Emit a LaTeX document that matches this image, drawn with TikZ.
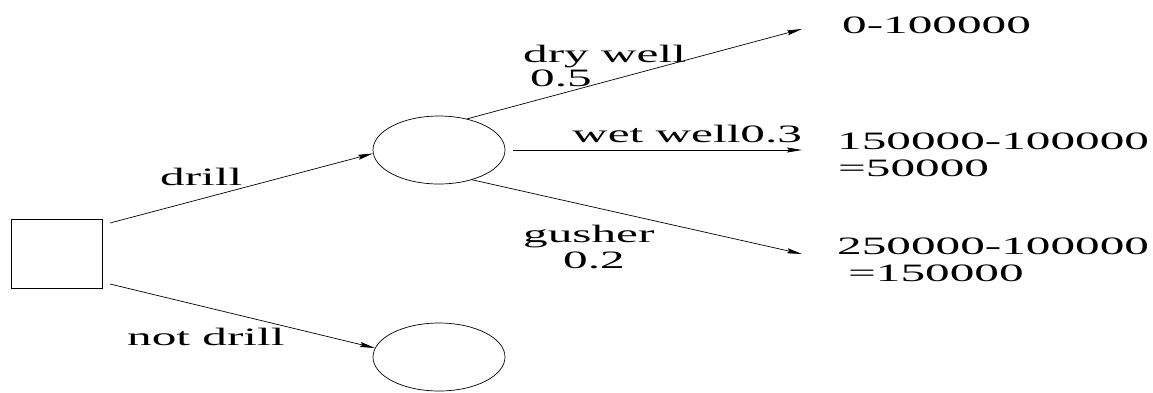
\documentclass[tikz,border=0pt]{standalone}
\usepackage{fontspec}
\usepackage{graphicx}
\setmainfont{Liberation Serif}
\usetikzlibrary{shapes.geometric,arrows.meta}
\newcommand{\stretchtxt}[1]{\scalebox{1.97}[1]{#1}}
\begin{document}
\begin{tikzpicture}[x=1pt,y=-1pt,
  link/.style={line width=0.7pt,-{Stealth[length=15pt,width=5pt,inset=2pt]}},
  chance/.style={ellipse,draw,line width=0.7pt,minimum width=132pt,minimum height=68pt,inner sep=0pt},
  choice/.style={draw,line width=0.7pt,minimum width=91pt,minimum height=69pt,inner sep=0pt},
  lbl/.style={anchor=base west,inner sep=0pt,font=\fontsize{25}{25}\selectfont}]
\useasboundingbox (0,0) rectangle (1153,392);

% decision and chance nodes
\node[choice] (sq) at (56.5,253.5) {};
\node[chance] (c1) at (439,150) {};
\node[chance] (c2) at (439,357) {};

% loose ends of the branches
\coordinate (s1) at (110,223);
\coordinate (s2) at (110,284);
\coordinate (e1) at (802,29);
\coordinate (e2) at (802,150);
\coordinate (e3) at (802,254);

% branches
\draw[link] (s1) -- (c1.183);
\draw[link] (s2) -- (c2.172);
\draw[link] (c1.48) -- (e1);
\draw[link,shorten <=8pt] (c1.east) -- (e2);
\draw[link] (c1.-42) -- (e3);

% branch labels
\node[lbl] (ldrill) at (160,185) {\stretchtxt{drill}};
\node[lbl] (lnot) at (127,345) {\stretchtxt{not drill}};
\node[lbl] (ldry) at (523,62) {\stretchtxt{dry well}};
\node[lbl] (pdry) at (530,86) {\stretchtxt{0.5}};
\node[lbl] (lwet) at (572,142) {\stretchtxt{wet well0.3}};
\node[lbl] (lgush) at (523,242) {\stretchtxt{gusher}};
\node[lbl] (pgush) at (563,268) {\stretchtxt{0.2}};

% payoffs
\node[lbl] (v1) at (842,33) {\stretchtxt{0-100000}};
\node[lbl] (v2a) at (837,149) {\stretchtxt{150000-100000}};
\node[lbl] (v2b) at (838,176) {\stretchtxt{=50000}};
\node[lbl] (v3a) at (837,254) {\stretchtxt{250000-100000}};
\node[lbl] (v3b) at (848,281) {\stretchtxt{=150000}};
\end{tikzpicture}
\end{document}
